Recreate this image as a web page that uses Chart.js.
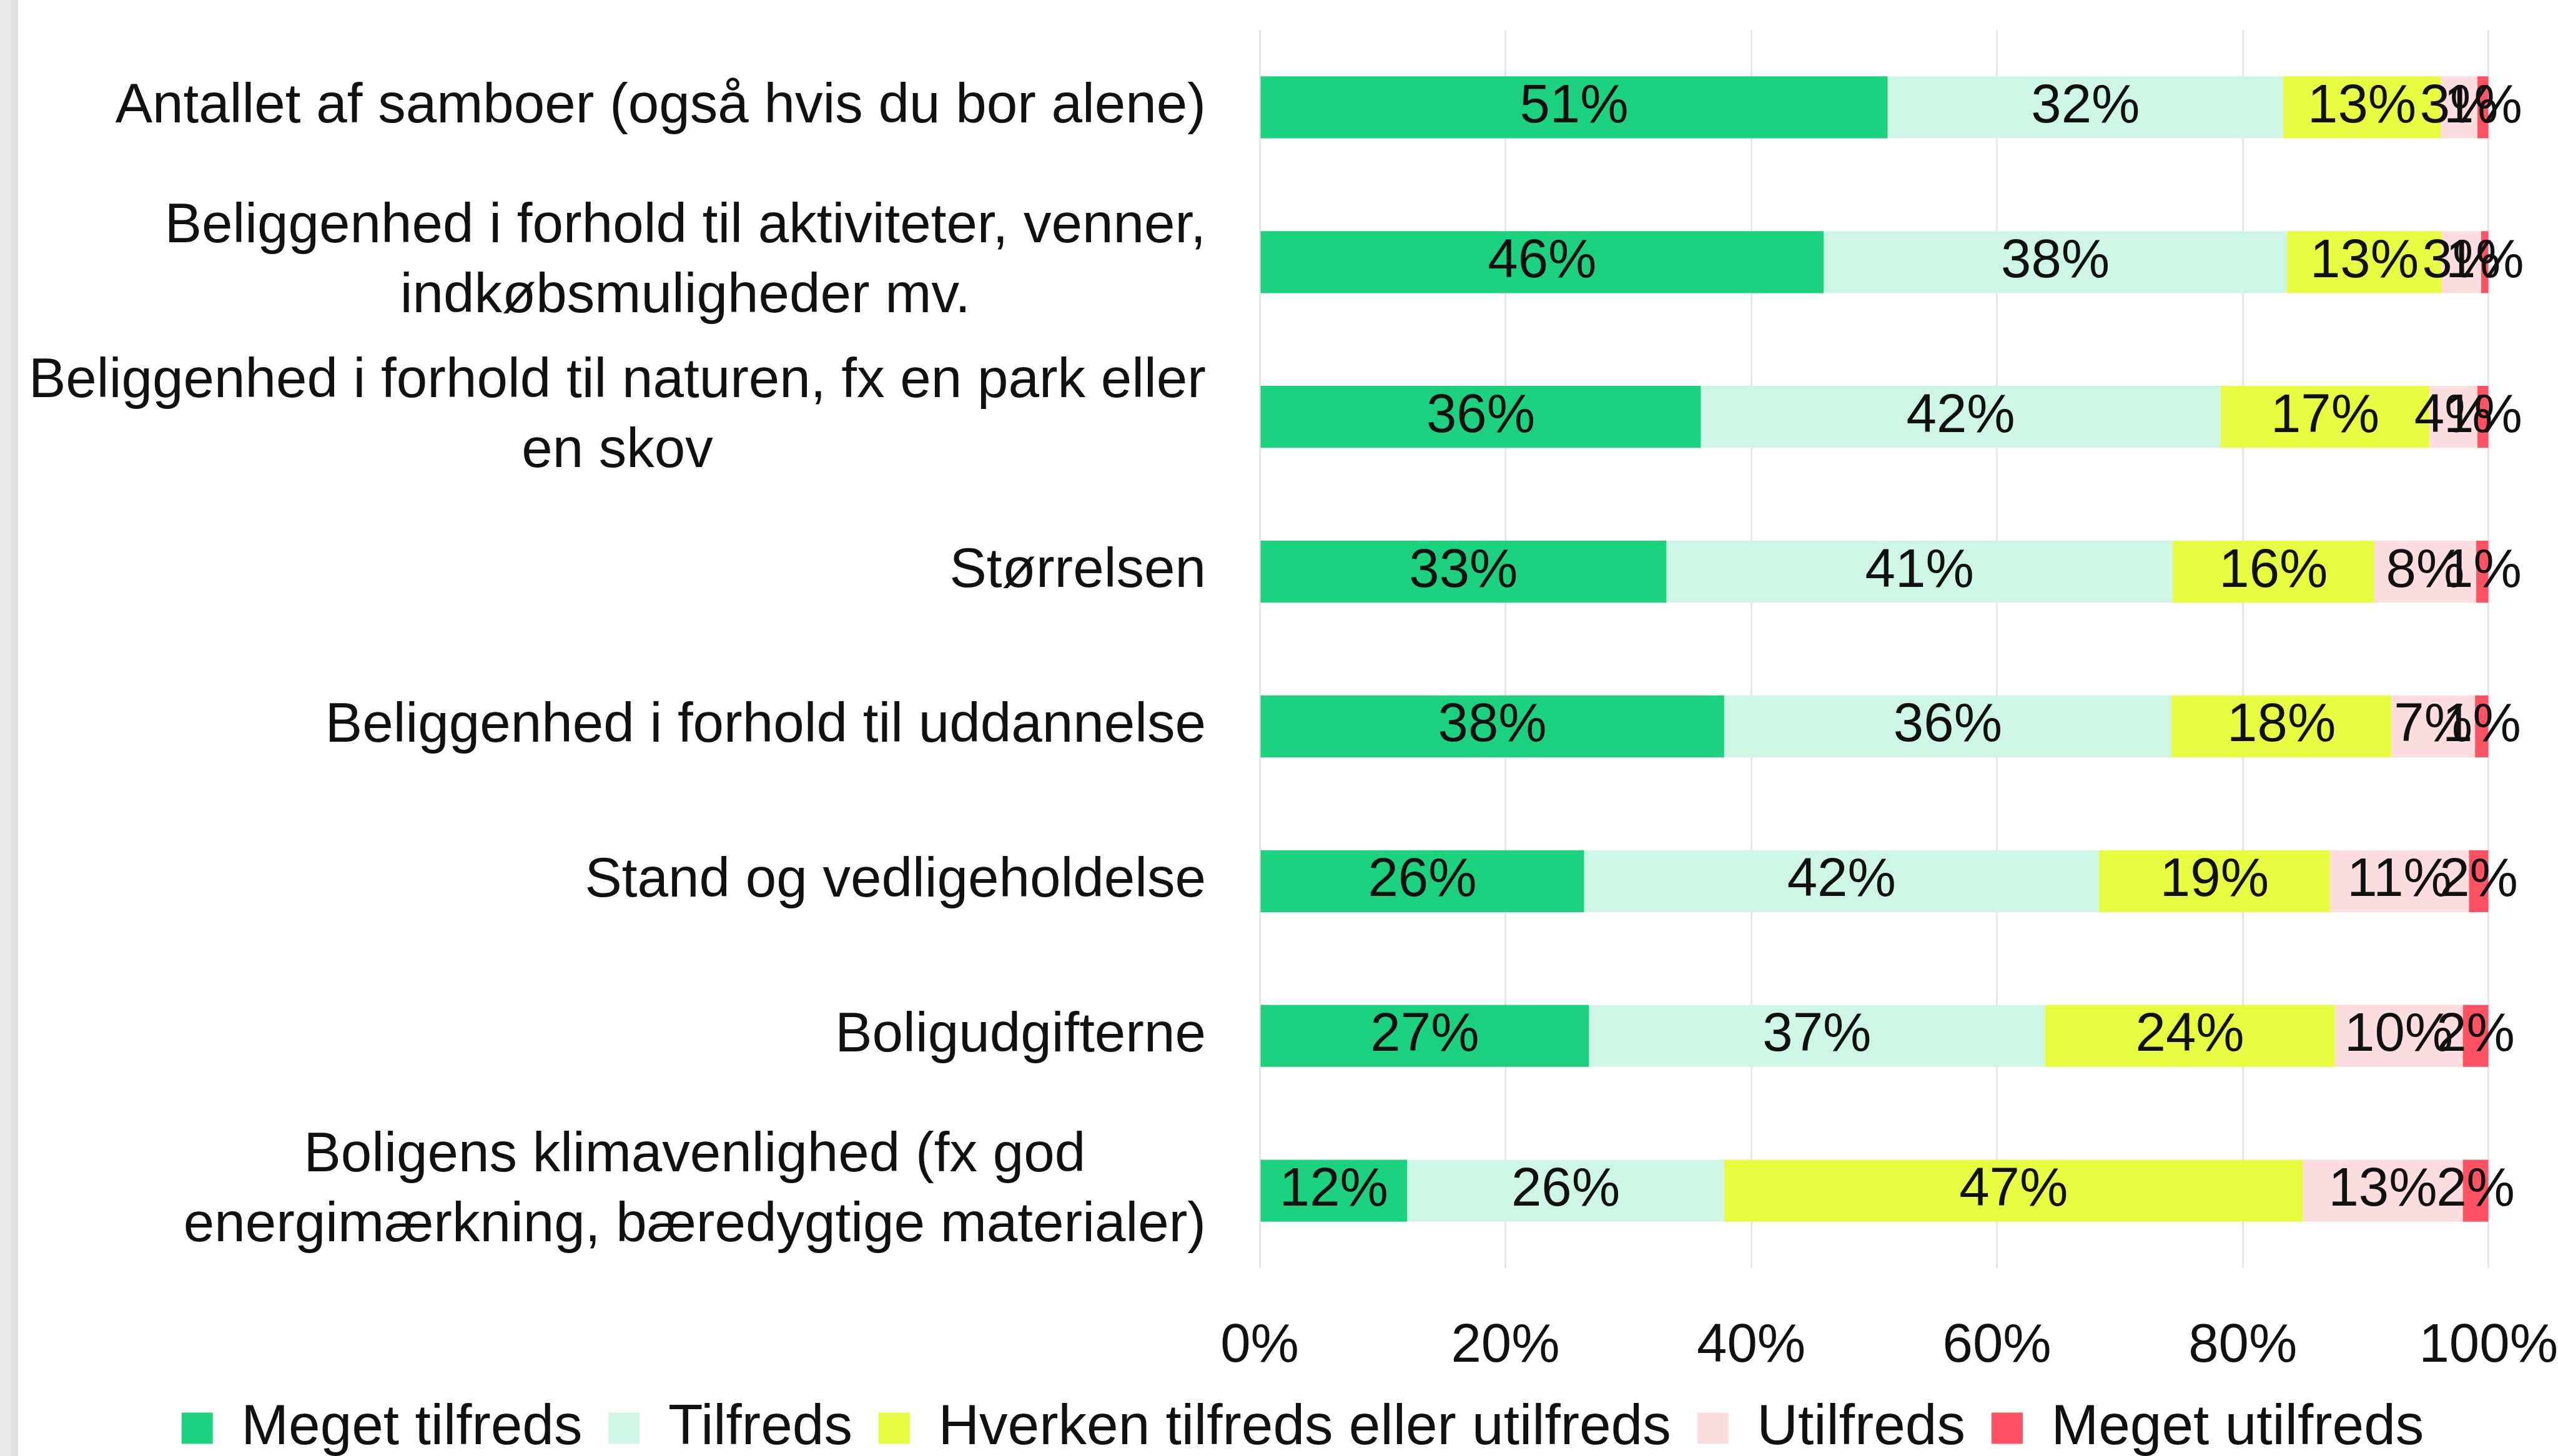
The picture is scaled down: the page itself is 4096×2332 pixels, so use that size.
<!DOCTYPE html>
<html>
<head>
<meta charset="utf-8">
<script src="https://cdn.jsdelivr.net/npm/chart.js@4.4.1/dist/chart.umd.min.js"></script>
<style>
  html, body { margin: 0; padding: 0; background: #fff; }
  body { width: 4096px; height: 2332px; overflow: hidden; position: relative; }
  #strip { position: absolute; left: 0; top: 0; width: 18px; height: 100%; background: #e8e8e8; border-right: 11px solid #e0e0e0; }
  #wrap { position: absolute; left: 29px; top: 0; width: 4067px; height: 2343px; }
</style>
</head>
<body>
<div id="strip"></div>
<div id="wrap"><canvas id="chart"></canvas></div>
<script>
// categories (multi-line labels as arrays)
const categories = [
    'Antallet af samboer (også hvis du bor alene)',
    ['Beliggenhed i forhold til aktiviteter, venner,', 'indkøbsmuligheder mv.'],
    ['Beliggenhed i forhold til naturen, fx en park eller', 'en skov'],
    'Størrelsen',
    'Beliggenhed i forhold til uddannelse',
    'Stand og vedligeholdelse',
    'Boligudgifterne',
    ['Boligens klimavenlighed (fx god', 'energimærkning, bæredygtige materialer)']
];
const seriesNames = ['Meget tilfreds', 'Tilfreds', 'Hverken tilfreds eller utilfreds', 'Utilfreds', 'Meget utilfreds'];
const megetTilfreds  = [51.1, 45.9, 35.9, 33.1, 37.8, 26.4, 26.8, 12.0];
const tilfreds       = [32.2, 37.7, 42.3, 41.2, 36.4, 41.9, 37.1, 25.8];
const hverken        = [12.8, 12.6, 17.0, 16.4, 17.9, 18.8, 23.6, 47.1];
const utilfreds      = [3.0, 3.2, 3.9, 8.3, 6.8, 11.3, 10.4, 13.0];
const megetUtilfreds = [0.9, 0.6, 0.9, 1.0, 1.1, 1.6, 2.1, 2.1];
const xTicks = [0, 20, 40, 60, 80, 100];

const colors = ['#1dd27f', '#cdf7e4', '#e8fd41', '#fddde0', '#ff5263'];
const FONT = '"Liberation Sans", Arial, sans-serif';
const FS = 87;      // numbers
const FS_LAB = 89;  // category labels
const FS_LEG = 91;  // legend
const TXT = '#111111';

// y-labels: block right aligned, lines centered within block
const yLabelPlugin = {
    id: 'yLabels',
    afterDraw(chart) {
        const ctx = chart.ctx;
        const y = chart.scales.y;
        const right = chart.chartArea.left - 86;
        const lh = 112;
        ctx.save();
        ctx.font = `${FS_LAB}px ${FONT}`;
        ctx.fillStyle = TXT;
        ctx.textAlign = 'center';
        ctx.textBaseline = 'middle';
        categories.forEach((lab, i) => {
            const lines = Array.isArray(lab) ? lab : [lab];
            const w = Math.max(...lines.map(l => ctx.measureText(l).width));
            const cx = right - w / 2;
            const cy = y.getPixelForValue(i);
            lines.forEach((l, j) => {
                ctx.fillText(l, cx, cy + (j - (lines.length - 1) / 2) * lh);
            });
        });
        ctx.restore();
    }
};

// percentage labels centered in each segment
const valueLabelPlugin = {
    id: 'valueLabels',
    afterDatasetsDraw(chart) {
        const ctx = chart.ctx;
        ctx.save();
        ctx.font = `${FS}px ${FONT}`;
        ctx.fillStyle = TXT;
        ctx.textAlign = 'center';
        ctx.textBaseline = 'middle';
        chart.data.datasets.forEach((ds, di) => {
            const meta = chart.getDatasetMeta(di);
            meta.data.forEach((bar, i) => {
                const v = ds.data[i];
                ctx.fillText(Math.round(v) + '%', (bar.x + bar.base) / 2, bar.y);
            });
        });
        ctx.restore();
    }
};

const seriesData = [megetTilfreds, tilfreds, hverken, utilfreds, megetUtilfreds];

new Chart(document.getElementById('chart'), {
    type: 'bar',
    data: {
        labels: categories,
        datasets: seriesNames.map((name, k) => ({
            label: name,
            data: seriesData[k],
            backgroundColor: colors[k],
            borderWidth: 0,
            categoryPercentage: 0.8,
            barPercentage: 0.5
        }))
    },
    options: {
        indexAxis: 'y',
        responsive: true,
        maintainAspectRatio: false,
        animation: false,
        layout: { padding: { top: 48, right: 0, bottom: 0, left: 47 } },
        scales: {
            x: {
                stacked: true,
                min: 0,
                max: 100,
                afterBuildTicks(scale) { scale.ticks = xTicks.map(v => ({ value: v })); },
                afterFit(scale) {
                    scale.height = 169;
                    scale._computeLabelArea = () => undefined; // don't clip tick labels
                },
                ticks: {
                    callback: v => v + '%',
                    font: { family: FONT, size: FS },
                    color: TXT,
                    padding: 0,
                    maxRotation: 0
                },
                grid: { color: '#e6e6e6', lineWidth: 3, drawTicks: true, tickLength: 74, tickColor: 'rgba(0,0,0,0)' },
                border: { display: false }
            },
            y: {
                stacked: true,
                afterFit(scale) { scale.width = 1941; },
                ticks: { display: false },
                grid: { display: false },
                border: { display: false }
            }
        },
        plugins: {
            legend: {
                display: true,
                position: 'bottom',
                labels: {
                    boxWidth: 50,
                    boxHeight: 50,
                    padding: 42,
                    color: TXT,
                    font: { family: FONT, size: FS_LEG }
                }
            },
            tooltip: { enabled: false }
        }
    },
    plugins: [yLabelPlugin, valueLabelPlugin]
});
</script>
</body>
</html>
